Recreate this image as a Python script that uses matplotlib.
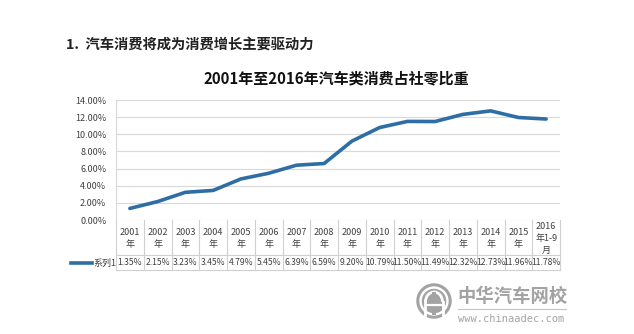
import matplotlib.pyplot as plt
from matplotlib.patches import Circle, Arc, Rectangle
import numpy as np

plt.rcParams['font.family'] = ['Noto Sans CJK SC', 'DejaVu Sans']

# === Data ===
categories = ['2001\n年', '2002\n年', '2003\n年', '2004\n年', '2005\n年', '2006\n年',
              '2007\n年', '2008\n年', '2009\n年', '2010\n年', '2011\n年', '2012\n年',
              '2013\n年', '2014\n年', '2015\n年', '2016\n年1-9\n月']
share = [1.35, 2.15, 3.23, 3.45, 4.79, 5.45, 6.39, 6.59, 9.20, 10.79,
         11.50, 11.49, 12.32, 12.73, 11.96, 11.78]
series_name = '系列1'
yticks = [0, 2, 4, 6, 8, 10, 12, 14]

W, H = 634, 334
fig = plt.figure(figsize=(W / 100, H / 100), dpi=100)
fig.patch.set_facecolor('white')


def fx(px):
    return px / W


def fy(py):
    return 1 - py / H


# plot area in pixel coords
left, right, top, bottom = 116, 560, 100, 220
ax = fig.add_axes([fx(left), fy(bottom), fx(right) - fx(left), fy(top) - fy(bottom)])

x = np.arange(len(share))
ax.plot(x, share, color='#2f6ea5', lw=2.6, solid_capstyle='round', solid_joinstyle='round')
ax.set_xlim(-0.5, len(share) - 0.5)
ax.set_ylim(0, 14)
ax.set_yticks(yticks)
ax.set_yticklabels([f'{t:.2f}%' for t in yticks], fontsize=6.5, color='#404040')
ax.set_xticks([])
ax.tick_params(axis='y', length=0, pad=7)
ax.grid(axis='y', color='#d9d9d9', lw=0.8)
ax.set_axisbelow(True)
for s in ['top', 'right', 'bottom']:
    ax.spines[s].set_visible(False)
ax.spines['left'].set_color('#d9d9d9')
ax.spines['left'].set_linewidth(0.8)

# === Data table under the axis ===
rows_h = bottom - top
y_head_bot = -(255 - bottom) / rows_h
y_tab_bot = -(270 - bottom) / rows_h
tr = ax.get_xaxis_transform()
line_kw = dict(color='#d0d0d0', lw=0.8, clip_on=False, transform=tr)
for b in np.arange(-0.5, len(share)):
    ax.plot([b, b], [0, y_tab_bot], **line_kw)
ax.plot([-0.5, len(share) - 0.5], [y_head_bot, y_head_bot], **line_kw)
ax.plot([-0.5, len(share) - 0.5], [y_tab_bot, y_tab_bot], **line_kw)

for i, (lab, v) in enumerate(zip(categories, share)):
    ax.text(i, (0 + y_head_bot) / 2 - 0.01, lab, transform=tr, ha='center', va='center',
            fontsize=6.5, color='#404040', linespacing=1.4)
    ax.text(i, (y_head_bot + y_tab_bot) / 2, f'{v:.2f}%', transform=tr, ha='center',
            va='center', fontsize=6.2, color='#404040')

# legend key in the row header
yk = fy(263)
fig.add_artist(plt.Line2D([fx(71), fx(92)], [yk, yk], color='#2f6ea5', lw=2.6,
                          transform=fig.transFigure))
fig.text(fx(93), yk, series_name, fontsize=6.5, color='#404040', va='center', ha='left')

# === Titles ===
fig.text(fx(66), fy(45), '1.  汽车消费将成为消费增长主要驱动力', fontsize=10.3,
         fontweight='bold', color='#222222', va='center', ha='left')
fig.text(fx(336), fy(78), '2001年至2016年汽车类消费占社零比重', fontsize=10.8,
         fontweight='bold', color='#111111', va='center', ha='center')

# === Watermark ===
gray = '#a3a3a3'
cx, cy, r = 434, 301, 18
ax_logo = fig.add_axes([fx(cx - r), fy(cy + r), 2 * r / W, 2 * r / H])
ax_logo.set_xlim(-1, 1)
ax_logo.set_ylim(-1, 1)
ax_logo.set_aspect('equal')
ax_logo.axis('off')
ax_logo.add_patch(Circle((0, 0), 0.9, fill=False, ec=gray, lw=2.2))
ax_logo.add_patch(Circle((0, 0), 0.68, fc=gray, ec='none'))
# white arch with a crossbar, split by the centre stem
ax_logo.add_patch(Arc((0, -0.05), 0.95, 1.1, theta1=0, theta2=180, color='white', lw=2.0))
ax_logo.plot([-0.475, -0.475], [-0.05, -0.75], color='white', lw=2.0)
ax_logo.plot([0.475, 0.475], [-0.05, -0.75], color='white', lw=2.0)
ax_logo.plot([-0.45, 0.45], [-0.2, -0.2], color='white', lw=1.6)
ax_logo.add_patch(Rectangle((-0.09, -0.75), 0.18, 1.25, fc=gray, ec='none'))

fig.text(fx(457), fy(296), '中华汽车网校', fontsize=13.2, fontweight='bold',
         color=gray, va='center', ha='left')
fig.add_artist(plt.Line2D([fx(458), fx(566)], [fy(309), fy(309)], color='#c4c4c4', lw=0.8,
                          transform=fig.transFigure))
fig.text(fx(458), fy(319), 'www.chinaadec.com', fontsize=7.5, family='DejaVu Sans Mono',
         color=gray, va='center', ha='left')

fig.savefig('out.png', dpi=100, facecolor='white')
